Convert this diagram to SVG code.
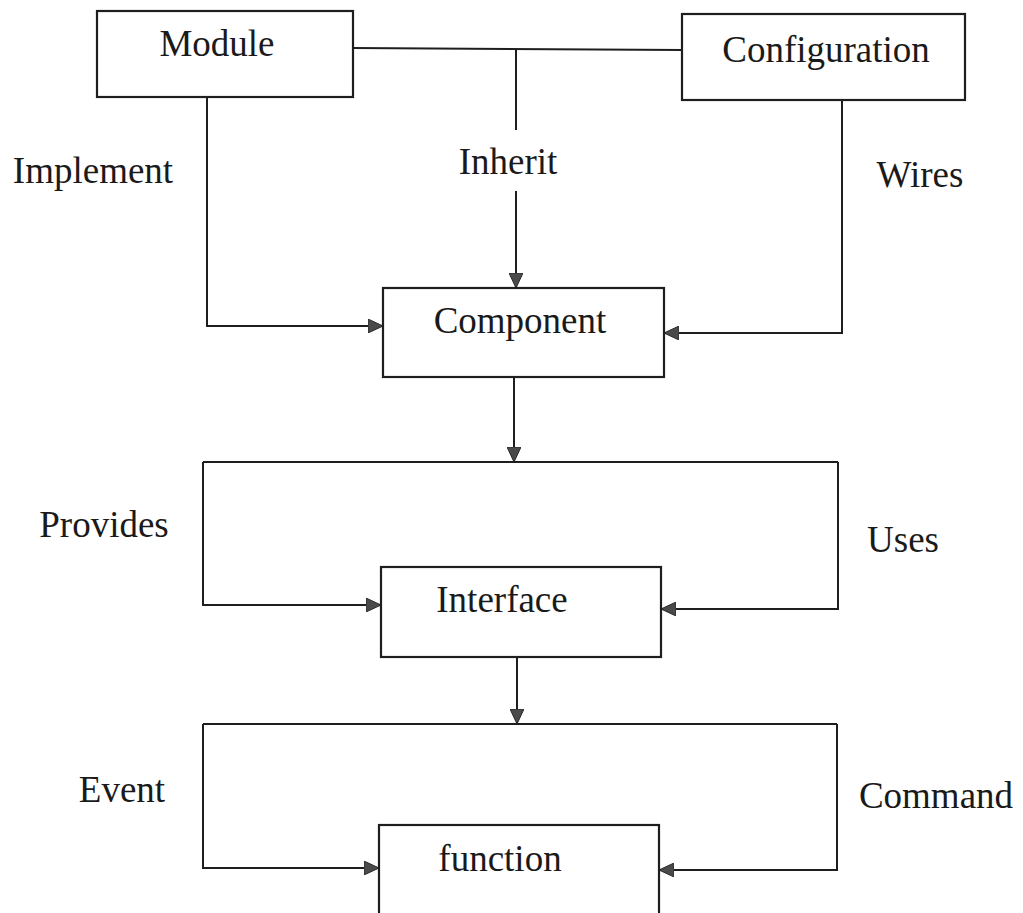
<svg xmlns="http://www.w3.org/2000/svg" width="1023" height="913" viewBox="0 0 1023 913">
  <style>
    .box { fill: #ffffff; stroke: #1e1e1e; stroke-width: 2.2; }
    .wire { fill: none; stroke: #1e1e1e; stroke-width: 2; }
    .arrow { marker-end: url(#head); }
    text { font-family: "Liberation Serif", "Times New Roman", serif; font-size: 37px; fill: #1a1a1a; text-anchor: middle; }
  </style>
  <defs>
    <marker id="head" markerUnits="userSpaceOnUse" markerWidth="16" markerHeight="14" refX="15" refY="7" orient="auto">
      <path d="M0,0 L15,7 L0,14 Z" fill="#4a4a4a" stroke="#2a2a2a" stroke-width="1"/>
    </marker>
  </defs>
  <rect width="1023" height="913" fill="#ffffff"/>

  <g id="connectors">
    <path class="wire" d="M353 48 L682 50"/>
    <path class="wire" d="M516 49 L516 130"/>
    <path class="wire arrow" d="M516 191 L516 288"/>
    <path class="wire arrow" d="M207 97 L207 326 L383 326"/>
    <path class="wire arrow" d="M842 100 L842 333 L664 333"/>
    <path class="wire arrow" d="M514 377 L514 462"/>
    <path class="wire" d="M203 462 L838 462"/>
    <path class="wire arrow" d="M203 462 L203 605 L381 605"/>
    <path class="wire arrow" d="M838 462 L838 609 L661 609"/>
    <path class="wire arrow" d="M517 657 L517 724"/>
    <path class="wire" d="M203 724 L837 724"/>
    <path class="wire arrow" d="M203 724 L203 868 L379 868"/>
    <path class="wire arrow" d="M837 724 L837 870 L659 870"/>
  </g>

  <g id="labels">
    <text x="93" y="183">Implement</text>
    <text x="508" y="174">Inherit</text>
    <text x="920" y="187">Wires</text>
    <text x="104" y="537">Provides</text>
    <text x="903" y="552">Uses</text>
    <text x="122" y="802">Event</text>
    <text x="936" y="808">Command</text>
  </g>

  <g id="module">
    <rect class="box" x="97" y="11" width="256" height="86"/>
    <text x="217" y="56">Module</text>
  </g>
  <g id="configuration">
    <rect class="box" x="682" y="14" width="283" height="86"/>
    <text x="826" y="62">Configuration</text>
  </g>
  <g id="component">
    <rect class="box" x="383" y="288" width="281" height="89"/>
    <text x="520" y="333">Component</text>
  </g>
  <g id="interface">
    <rect class="box" x="381" y="567" width="280" height="90"/>
    <text x="502" y="612">Interface</text>
  </g>
  <g id="function">
    <rect class="box" x="379" y="825" width="280" height="100"/>
    <text x="500" y="871">function</text>
  </g>
</svg>
